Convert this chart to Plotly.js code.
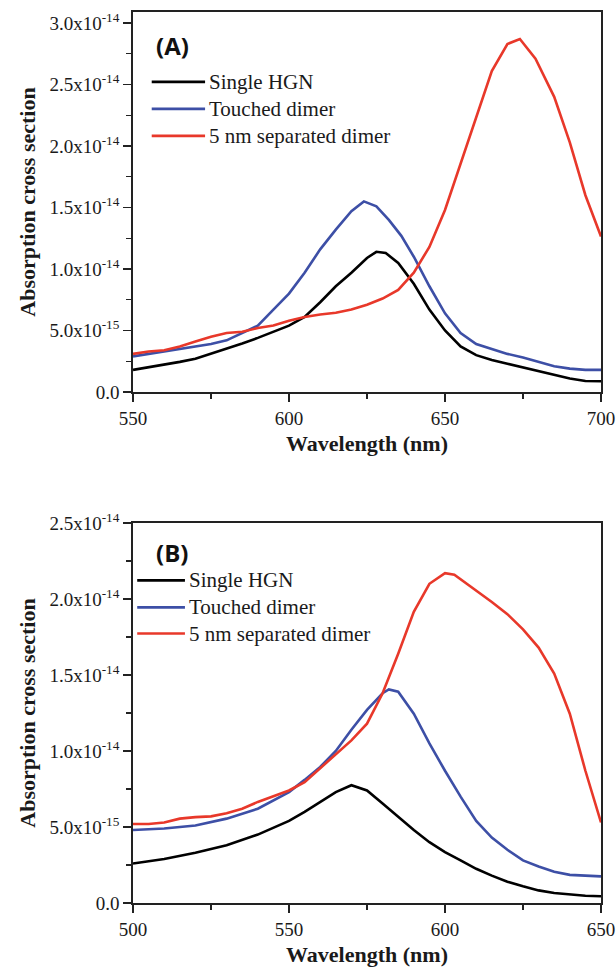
<!DOCTYPE html>
<html><head><meta charset="utf-8">
<script src="https://cdn.plot.ly/plotly-3.0.1.min.js"></script>
<style>body{margin:0;background:#fff}#chart{width:616px;height:967px}</style>
</head><body><div id="chart"></div>
<script>
// Panel A (values in units of 1e-14)
const wlSingleA = [550,555,560,565,570,575,580,585,590,595,600,605,610,615,620,625,628,631,635,640,645,650,655,660,665,670,675,680,685,690,695,700];
const singleA   = [0.18,0.20,0.22,0.245,0.27,0.31,0.35,0.395,0.44,0.49,0.54,0.61,0.73,0.86,0.97,1.09,1.14,1.13,1.05,0.88,0.67,0.50,0.37,0.30,0.26,0.23,0.20,0.175,0.14,0.11,0.09,0.087];
const wlTouchedA = [550,555,560,565,570,575,580,585,590,595,600,605,610,615,620,624,628,632,636,640,645,650,655,660,665,670,675,680,685,690,695,700];
const touchedA   = [0.29,0.31,0.33,0.35,0.37,0.39,0.42,0.48,0.54,0.67,0.80,0.97,1.16,1.32,1.47,1.55,1.51,1.40,1.27,1.10,0.86,0.64,0.48,0.39,0.35,0.31,0.28,0.245,0.21,0.19,0.18,0.18];
const wlSepA = [550,555,560,565,570,575,580,585,590,595,600,605,610,615,620,625,630,635,640,645,650,655,660,665,670,674,679,685,690,695,700];
const sepA   = [0.31,0.33,0.34,0.37,0.41,0.45,0.48,0.49,0.52,0.54,0.58,0.61,0.63,0.645,0.67,0.71,0.76,0.83,0.97,1.18,1.48,1.86,2.24,2.61,2.83,2.87,2.71,2.40,2.03,1.60,1.265];

// Panel B (values in units of 1e-14)
const wlSingleB = [500,510,520,530,540,550,555,560,565,570,575,580,585,590,595,600,605,610,615,620,625,630,635,640,645,650];
const singleB   = [0.26,0.29,0.33,0.38,0.45,0.54,0.60,0.665,0.73,0.775,0.74,0.655,0.565,0.48,0.40,0.335,0.28,0.225,0.18,0.14,0.11,0.083,0.066,0.055,0.048,0.044];
const wlTouchedB = [500,510,520,530,540,550,555,560,565,570,575,580,582,585,590,595,600,605,610,615,620,625,630,635,640,645,650];
const touchedB   = [0.48,0.49,0.51,0.555,0.62,0.73,0.81,0.895,1.00,1.14,1.27,1.38,1.405,1.39,1.245,1.05,0.87,0.70,0.54,0.43,0.35,0.28,0.24,0.205,0.185,0.18,0.175];
const wlSepB = [500,505,510,515,520,525,530,535,540,545,550,555,560,565,570,575,580,585,590,595,600,603,605,610,615,620,625,630,635,640,645,650];
const sepB   = [0.52,0.52,0.53,0.555,0.565,0.57,0.59,0.62,0.665,0.70,0.74,0.795,0.885,0.98,1.07,1.18,1.38,1.64,1.915,2.10,2.17,2.16,2.13,2.06,1.98,1.90,1.80,1.68,1.51,1.245,0.87,0.53];

const seriesNames = ["Single HGN","Touched dimer","5 nm separated dimer"];
const seriesColors = ["#000000","#3d4fa6","#e8382a"];
const panelLabels = ["(A)","(B)"];

const yTickValsA = [0,0.5,1.0,1.5,2.0,2.5,3.0];
const yTickTextA = ["0.0","5.0x10<sup>-15</sup>","1.0x10<sup>-14</sup>","1.5x10<sup>-14</sup>","2.0x10<sup>-14</sup>","2.5x10<sup>-14</sup>","3.0x10<sup>-14</sup>"];
const yTickValsB = [0,0.5,1.0,1.5,2.0,2.5];
const yTickTextB = ["0.0","5.0x10<sup>-15</sup>","1.0x10<sup>-14</sup>","1.5x10<sup>-14</sup>","2.0x10<sup>-14</sup>","2.5x10<sup>-14</sup>"];
const xTickValsA = [550,600,650,700];
const xTickValsB = [500,550,600,650];

const E = 1e-14;
const sc = a => a.map(v => v*E);

const traces = [
  {x:wlSingleA, y:sc(singleA), xaxis:'x', yaxis:'y', name:seriesNames[0], line:{color:seriesColors[0]}},
  {x:wlTouchedA, y:sc(touchedA), xaxis:'x', yaxis:'y', name:seriesNames[1], line:{color:seriesColors[1]}},
  {x:wlSepA, y:sc(sepA), xaxis:'x', yaxis:'y', name:seriesNames[2], line:{color:seriesColors[2]}},
  {x:wlSingleB, y:sc(singleB), xaxis:'x2', yaxis:'y2', name:seriesNames[0], line:{color:seriesColors[0]}},
  {x:wlTouchedB, y:sc(touchedB), xaxis:'x2', yaxis:'y2', name:seriesNames[1], line:{color:seriesColors[1]}},
  {x:wlSepB, y:sc(sepB), xaxis:'x2', yaxis:'y2', name:seriesNames[2], line:{color:seriesColors[2]}}
].map(t => Object.assign(t, {type:'scatter', mode:'lines', showlegend:false, line:Object.assign(t.line,{width:2.6})}));

const SERIF = "Liberation Serif";
const tickFont = () => ({family:SERIF, size:19, color:'#1a1a1a'});
const titleFont = () => ({family:SERIF, size:22, color:'#1a1a1a', weight:'bold'});

function xAxis(anchor, tv){
  return {domain:[0,1], anchor:anchor, range:[tv[0], tv[tv.length-1]], tickvals:tv, ticktext:tv.map(String),
    ticks:'outside', ticklen:8, tickwidth:1.5, tickcolor:'#222', showline:true, linecolor:'#222', linewidth:1.8, mirror:true,
    showgrid:false, zeroline:false, tickfont:tickFont(),
    minor:{ticks:'outside', ticklen:5, tickwidth:1.3, tickcolor:'#222', dtick:25, tick0:0, showgrid:false},
    title:{text:'Wavelength (nm)', font:titleFont(), standoff:8}};
}
function yAxis(dom, anchor, tv, tt, rmax){
  return {domain:dom, anchor:anchor, range:[0, rmax*E], tickvals:tv.map(v=>v*E), ticktext:tt,
    ticks:'outside', ticklen:8, tickwidth:1.5, tickcolor:'#222', showline:true, linecolor:'#222', linewidth:1.8, mirror:true,
    showgrid:false, zeroline:false, tickfont:tickFont(),
    minor:{ticks:'outside', ticklen:5, tickwidth:1.3, tickcolor:'#222', dtick:0.25*E, tick0:0, showgrid:false},
    title:{text:'Absorption cross section', font:titleFont(), standoff:8}};
}

const shapes = [], annotations = [];
function addLegend(xa, ya, x0, x1, xt, rows){
  rows.forEach((yy,i)=>{
    shapes.push({type:'line', xref:xa+' domain', yref:ya+' domain', x0:x0, x1:x1, y0:yy, y1:yy, line:{color:seriesColors[i], width:2.6}});
    annotations.push({xref:xa+' domain', yref:ya+' domain', x:xt, y:yy, xanchor:'left', yanchor:'middle', showarrow:false,
      text:seriesNames[i], font:{family:SERIF, size:21, color:'#1a1a1a'}});
  });
}
addLegend('x','y',0.04,0.154,0.158,[0.816,0.745,0.674]);
addLegend('x2','y2',0.009,0.111,0.115,[0.849,0.778,0.709]);
annotations.push({xref:'x domain', yref:'y domain', x:0.045, y:0.913, xanchor:'left', yanchor:'middle', showarrow:false,
  text:'<b>'+panelLabels[0]+'</b>', font:{family:'Open Sans', size:24, color:'#111'}});
annotations.push({xref:'x2 domain', yref:'y2 domain', x:0.045, y:0.923, xanchor:'left', yanchor:'middle', showarrow:false,
  text:'<b>'+panelLabels[1]+'</b>', font:{family:'Open Sans', size:24, color:'#111'}});

const layout = {
  width:616, height:967, paper_bgcolor:'#fff', plot_bgcolor:'#fff',
  font:{family:SERIF, size:19, color:'#1a1a1a'},
  margin:{l:133, r:15, t:12, b:64},
  xaxis: xAxis('y',xTickValsA),
  yaxis: yAxis([0.5735,1],'x',yTickValsA,yTickTextA,3.09),
  xaxis2: xAxis('y2',xTickValsB),
  yaxis2: yAxis([0,0.4265],'x2',yTickValsB,yTickTextB,2.5),
  shapes:shapes, annotations:annotations, showlegend:false
};
Plotly.newPlot('chart', traces, layout, {displayModeBar:false, staticPlot:true});
</script></body></html>
